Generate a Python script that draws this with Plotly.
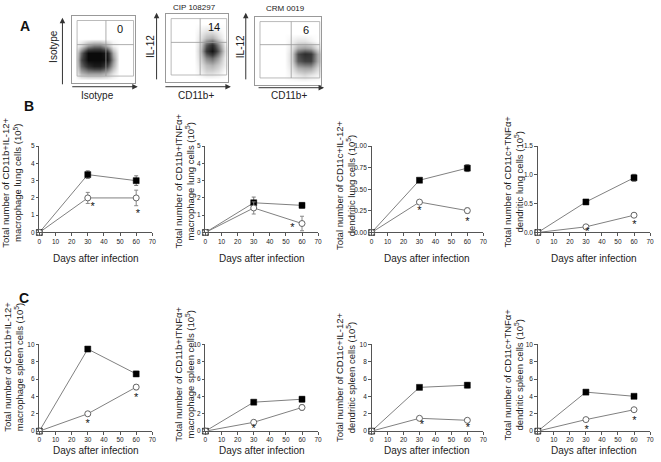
import plotly.graph_objects as go

W, H = 661, 462
def fx(p): return p / W
def fy(p): return 1 - p / H

# ---------------- data ----------------
days = [0, 30, 60]

# Panel A dot-plot densities (rows bottom->top, cols left->right, 10x10 grid)
grid = [0.05, 0.15, 0.25, 0.35, 0.45, 0.55, 0.65, 0.75, 0.85, 0.95]
dens_iso = [
    [0, 0, 0, 0, 0, 0, 0, 0, 0, 0],
    [0, .3, .4, .4, .4, .3, .12, 0, 0, 0],
    [0, .55, .8, .9, .9, .7, .3, 0, 0, 0],
    [0, .65, 1, 1, 1, .95, .4, 0, 0, 0],
    [0, .55, 1, 1, 1, .9, .3, 0, 0, 0],
    [0, .15, .4, .5, .5, .3, .06, 0, 0, 0],
    [0, 0, 0, 0, 0, 0, 0, 0, 0, 0],
    [0, 0, 0, 0, 0, 0, 0, 0, 0, 0],
    [0, 0, 0, 0, 0, 0, 0, 0, 0, 0],
    [0, 0, 0, 0, 0, 0, 0, 0, 0, 0],
]
dens_cip = [
    [0, 0, 0, 0, 0, 0, 0, 0, 0, 0],
    [0, 0, 0, 0, 0, .05, .15, .15, .1, 0],
    [0, 0, 0, 0, 0, .1, .25, .3, .2, .05],
    [0, 0, 0, 0, 0, .15, .45, .55, .35, .05],
    [0, 0, 0, 0, 0, .2, .75, .95, .6, .1],
    [0, 0, 0, 0, 0, .15, .6, .8, .45, .05],
    [0, 0, 0, 0, 0, .1, .25, .3, .15, 0],
    [0, 0, 0, 0, 0, .05, .1, .1, .05, 0],
    [0, 0, 0, 0, 0, 0, 0, 0, 0, 0],
    [0, 0, 0, 0, 0, 0, 0, 0, 0, 0],
]
dens_crm = [
    [0, 0, 0, 0, 0, 0, 0, 0, 0, 0],
    [0, 0, 0, 0, 0, .05, .1, .15, .1, .05],
    [0, 0, 0, 0, 0, .1, .3, .35, .35, .15],
    [0, 0, 0, 0, 0, .15, .6, .7, .7, .3],
    [0, 0, 0, 0, 0, .15, .65, .8, .75, .3],
    [0, 0, 0, 0, 0, .1, .3, .35, .3, .1],
    [0, 0, 0, 0, 0, .05, .1, .1, .05, 0],
    [0, 0, 0, 0, 0, 0, 0, 0, 0, 0],
    [0, 0, 0, 0, 0, 0, 0, 0, 0, 0],
    [0, 0, 0, 0, 0, 0, 0, 0, 0, 0],
]
dot_titles = ["", "CIP 108297", "CRM 0019"]
dot_xlabels = ["Isotype", "CD11b+", "CD11b+"]
dot_ylabels = ["Isotype", "IL-12", "IL-12"]
dot_percent = ["0", "14", "6"]
gate_x = [0.54, 0.55, 0.55]
gate_y = [0.57, 0.58, 0.59]

# Line panels (filled squares = CIP 108297, open circles = CRM 0019)
titles = [
    "Total number of CD11b+IL-12+<br>macrophage lung cells (10<sup>5</sup>)",
    "Total number of CD11b+ITNFα+<br>macrophage lung cells (10<sup>5</sup>)",
    "Total number of CD11c+IL-12+<br>dendritic lung cells (10<sup>5</sup>)",
    "Total number of CD11c+TNFα+<br>dendritic lung cells (10<sup>5</sup>)",
    "Total number of CD11b+IL-12+<br>macrophage spleen cells (10<sup>5</sup>)",
    "Total number of CD11b+ITNFα+<br>macrophage spleen cells (10<sup>5</sup>)",
    "Total number of CD11c+IL-12+<br>dendritic spleen cells (10<sup>5</sup>)",
    "Total number of CD11c+TNFα+<br>dendritic spleen cells (10<sup>5</sup>)",
]
filled_y = [
    [0, 3.35, 3.0], [0, 1.72, 1.57], [0, 0.605, 0.745], [0, 0.53, 0.95],
    [0, 9.47, 6.6], [0, 3.34, 3.68], [0, 5.05, 5.3], [0, 4.5, 4.02],
]
filled_err = [
    [0, 0.22, 0.28], [0, 0.33, 0.15], [0, 0.015, 0.04], [0, 0.04, 0.06],
    [0, 0.12, 0.3], [0, 0.15, 0.3], [0, 0.1, 0.3], [0, 0.1, 0.12],
]
open_y = [
    [0, 2.0, 2.0], [0, 1.42, 0.52], [0, 0.352, 0.253], [0, 0.098, 0.30],
    [0, 2.0, 5.08], [0, 1.02, 2.73], [0, 1.48, 1.25], [0, 1.33, 2.47],
]
open_err = [
    [0, 0.32, 0.45], [0, 0.35, 0.42], [0, 0.01, 0.03], [0, 0.02, 0.04],
    [0, 0.12, 0.3], [0, 0.1, 0.3], [0, 0.1, 0.12], [0, 0.1, 0.12],
]
star_x = [[33, 61], [54], [30, 60], [31, 60.3], [30, 60], [30], [31.5, 60.4], [30.5, 60.3]]
star_y = [[1.45, 1.07], [0.22], [0.24, 0.115], [0.01, 0.13], [0.85, 3.75], [0.17], [0.62, 0.35], [0.12, 1.19]]
y_max = [5, 5, 1.0, 1.5, 10, 10, 10, 10]
y_dtick = [1, 1, 0.25, 0.5, 2, 2, 2, 2]
y_fmt = ["d", "d", ".2f", ".1f", "d", "d", "d", "d"]
x_max = 70
x_dtick = 10

# ---------------- layout geometry ----------------
dot_dom_x = [(70.7, 134), (165.7, 228), (255, 322)]
dot_dom_y = [(12, 80), (10, 79), (13, 82)]
line_dom_x = [(37.7, 151.7), (205.3, 319), (373, 485.7), (540.7, 654)]
line_dom_y = [(144.3, 232), (345.7, 433.7)]
title_x = [9.5, 184, 346, 516, 11.5, 184, 346, 516]
title_y = [181, 180, 184, 180, 368, 376, 379, 376]

FONT = "Liberation Sans, Arial, sans-serif"
LINE = "#808080"
AX = "#555555"

fig = go.Figure()
layout = dict(
    width=W, height=H, margin=dict(l=0, r=0, t=0, b=0),
    paper_bgcolor="white", plot_bgcolor="white", showlegend=False,
    font=dict(family=FONT, color="#222"),
)
annotations = []
shapes = []

def ann(**kw):
    kw.setdefault("xanchor", "center")
    kw.setdefault("yanchor", "middle")
    kw.setdefault("showarrow", False)
    annotations.append(kw)

dens_all = [dens_iso, dens_cip, dens_crm]
for i in range(3):
    n = i + 1
    xa = "x" if n == 1 else f"x{n}"
    ya = "y" if n == 1 else f"y{n}"
    fig.add_trace(go.Heatmap(
        x=grid, y=grid, z=dens_all[i], xaxis=xa, yaxis=ya,
        zmin=0, zmax=1, zsmooth="best", showscale=False, hoverinfo="skip",
        colorscale=[[0, "white"], [0.3, "#b0b0b0"], [0.7, "#404040"], [1, "#0a0a0a"]],
    ))
    x0, x1 = dot_dom_x[i]
    y0, y1 = dot_dom_y[i]
    layout[f"xaxis{n}"] = dict(domain=[fx(x0), fx(x1)], range=[0, 1], showticklabels=False,
                               ticks="", showgrid=False, zeroline=False, showline=True,
                               mirror=True, linecolor="#999", linewidth=1, anchor=ya)
    layout[f"yaxis{n}"] = dict(domain=[fy(y1), fy(y0)], range=[0, 1], showticklabels=False,
                               ticks="", showgrid=False, zeroline=False, showline=True,
                               mirror=True, linecolor="#999", linewidth=1, anchor=xa)
    xr, yr = xa, ya
    shapes.append(dict(type="rect", xref=xr, yref=yr, x0=0.08, x1=0.98, y0=0.1, y1=0.93,
                       line=dict(color="#aaa", width=0.8)))
    shapes.append(dict(type="line", xref=xr, yref=yr, x0=gate_x[i], x1=gate_x[i], y0=0.1, y1=0.93,
                       line=dict(color="#999", width=0.8)))
    shapes.append(dict(type="line", xref=xr, yref=yr, x0=0.08, x1=0.98, y0=gate_y[i], y1=gate_y[i],
                       line=dict(color="#999", width=0.8)))
    ann(x=0.77, y=0.8, xref=xr, yref=yr, text=dot_percent[i], font=dict(size=11, color="#111"))
    ax_x = [61, 156, 246][i]
    arr_y = [84, 84, 85][i]
    ann(x=fx(ax_x), y=fy([14, 9, 9][i]), xref="paper", yref="paper", text="",
        showarrow=True, ax=0, ay=68, arrowhead=2, arrowsize=1.1, arrowwidth=1, arrowcolor="#333")
    ann(x=fx(x1 + 3), y=fy(arr_y), xref="paper", yref="paper", text="",
        showarrow=True, ax=-67, ay=0, arrowhead=2, arrowsize=1.1, arrowwidth=1, arrowcolor="#333")
    ann(x=fx([96, 196, 290][i]), y=fy(93), xref="paper", yref="paper",
        text=dot_xlabels[i], font=dict(size=10))
    ann(x=fx([52, 150, 241][i]), y=fy(43), xref="paper", yref="paper",
        text=dot_ylabels[i], textangle=-90, font=dict(size=10))
    if dot_titles[i]:
        ann(x=fx([194, 194, 286][i]), y=fy([4, 4, 5][i]), xref="paper", yref="paper",
            text=dot_titles[i], font=dict(size=8))

for k in range(8):
    n = k + 4
    xa, ya = f"x{n}", f"y{n}"
    col = k % 4
    row = k // 4
    x0, x1 = line_dom_x[col]
    y0, y1 = line_dom_y[row]
    fig.add_trace(go.Scatter(
        x=days, y=filled_y[k], xaxis=xa, yaxis=ya, mode="lines+markers",
        line=dict(color=LINE, width=1),
        marker=dict(symbol="square", size=6, color="#000", line=dict(color="#000", width=0.5)),
        error_y=dict(type="data", array=filled_err[k], color="#777", thickness=1, width=2),
        cliponaxis=False,
    ))
    fig.add_trace(go.Scatter(
        x=days, y=open_y[k], xaxis=xa, yaxis=ya, mode="lines+markers",
        line=dict(color=LINE, width=1),
        marker=dict(symbol="circle", size=6, color="white", line=dict(color="#666", width=1)),
        error_y=dict(type="data", array=open_err[k], color="#888", thickness=1, width=2),
        cliponaxis=False,
    ))
    fig.add_trace(go.Scatter(
        x=star_x[k], y=star_y[k], xaxis=xa, yaxis=ya, mode="text", text=["*"] * len(star_x[k]),
        textposition="middle center", textfont=dict(size=11, color="#111"), cliponaxis=False,
    ))
    layout[f"xaxis{n}"] = dict(domain=[fx(x0), fx(x1)], range=[0, x_max], dtick=x_dtick, tick0=0,
                               showgrid=False, zeroline=False, showline=True, linecolor=AX,
                               linewidth=1, ticks="outside", ticklen=2.5, tickcolor=AX,
                               tickfont=dict(size=6.5, color="#222"), anchor=ya)
    layout[f"yaxis{n}"] = dict(domain=[fy(y1), fy(y0)], range=[0, y_max[k]], dtick=y_dtick[k], tick0=0,
                               tickformat=y_fmt[k], showgrid=False, zeroline=False, showline=True,
                               linecolor=AX, linewidth=1, ticks="outside", ticklen=2.5, tickcolor=AX,
                               tickfont=dict(size=6.5, color="#222"), anchor=xa)
    ann(x=fx(title_x[k]), y=fy(title_y[k]), xref="paper", yref="paper",
        text=titles[k], textangle=-90, font=dict(size=9.5, color="#222"))
    ann(x=fx((x0 + x1) / 2), y=fy([258, 453][row]), xref="paper", yref="paper",
        text="Days after infection", font=dict(size=10, color="#222"))

for lab, px, py in [("A", 23, 22), ("B", 27, 104), ("C", 22, 299)]:
    ann(x=fx(px), y=fy(py), xref="paper", yref="paper", text=f"<b>{lab}</b>",
        font=dict(size=14, color="#111"))

layout["annotations"] = annotations
layout["shapes"] = shapes
fig.update_layout(**layout)
fig.write_html("out.html", config={"displayModeBar": False},
               post_script="document.body.style.margin='0';")
